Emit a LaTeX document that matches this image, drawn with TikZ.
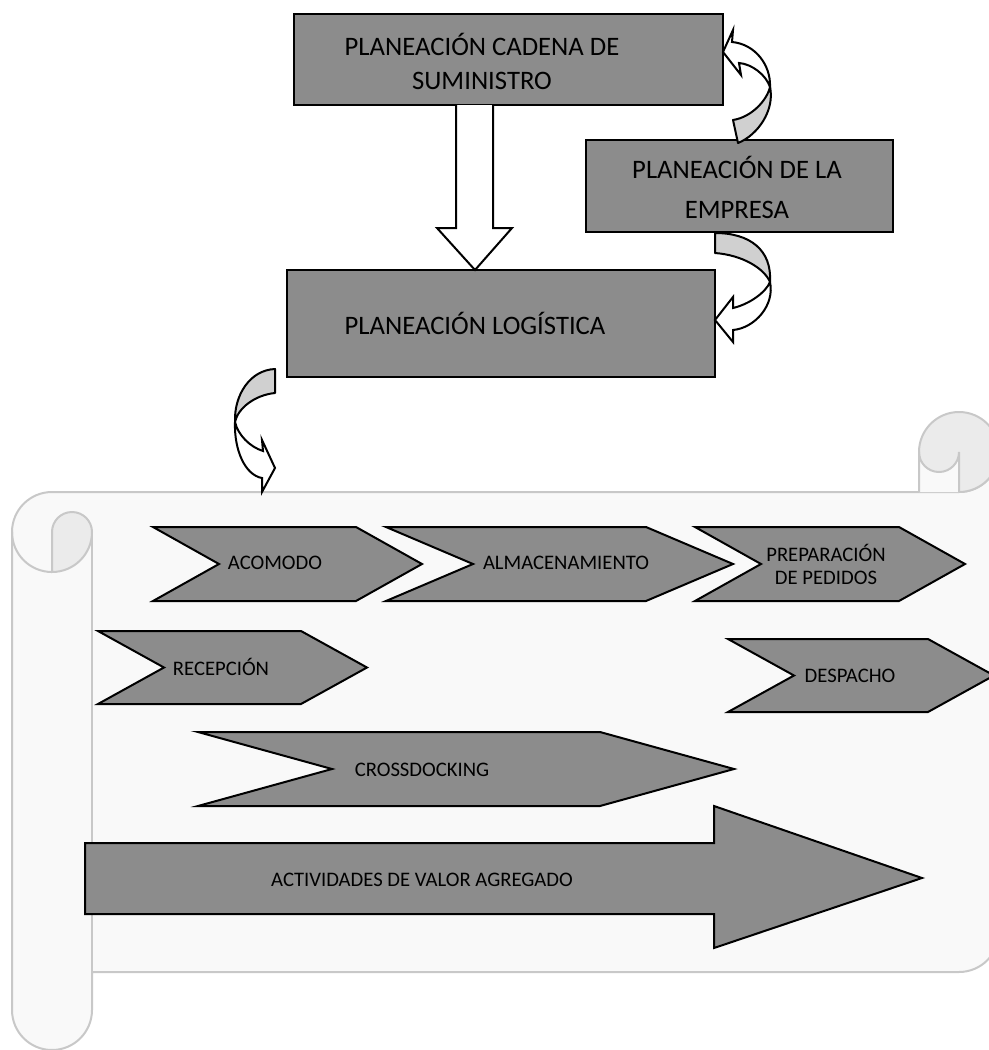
\documentclass[tikz,border=0pt]{standalone}
\usepackage{fontspec}
\setmainfont{Carlito}
\usetikzlibrary{positioning, calc}
\definecolor{boxgray}{RGB}{140,140,140}
\definecolor{bandgray}{RGB}{208,208,208}
\definecolor{paper}{RGB}{249,249,249}
\definecolor{rollgray}{RGB}{235,235,235}
\definecolor{rimgray}{RGB}{200,200,200}
\newcommand{\chevron}[5]{\draw[chev] (#1,#3) -- (#2-#5,#3) -- (#2,{(#3+#4)/2}) -- (#2-#5,#4) -- (#1,#4) -- (#1+#5,{(#3+#4)/2}) -- cycle;}

\begin{document}
\begin{tikzpicture}[
        x=0.75pt, y=-0.75pt,
        box/.style={draw, line width=1.5pt, fill=boxgray, inner sep=0pt},
        boxtxt/.style={align=center, font=\fontsize{20}{25}\selectfont},
        lbl/.style={align=center, font=\fontsize{15.5}{17.25}\selectfont},
        chev/.style={draw, line width=1.5pt, fill=boxgray, line join=miter},
        band/.style={draw, line width=1.5pt, fill=bandgray, line join=round},
        curvehead/.style={draw, line width=1.5pt, fill=white, line join=miter},
        rim/.style={draw=rimgray, line width=1.5pt}
    ]
        \useasboundingbox (0,0) rectangle (989,1050);
        \clip (0,0) rectangle (989,1050);

        \filldraw[rim, fill=paper] (12,532) arc[start angle=180, end angle=270, radius=40] -- (959,492) arc[start angle=90, end angle=0, radius=40] -- (999,932) arc[start angle=0, end angle=90, radius=40] -- (92,972) -- (92,1010) arc[start angle=0, end angle=180, radius=40] -- cycle;
        \draw[rim] (92,532) -- (92,972);
        \filldraw[rim, fill=rollgray] (52,572) -- (52,532) arc[start angle=180, end angle=360, radius=20] arc[start angle=0, end angle=90, radius=40] -- cycle;
        \draw[rim] (12,532) arc[start angle=180, end angle=90, radius=40];
        \filldraw[rim, fill=rollgray] (959,452) circle[radius=40];
        \path[fill=paper] (919,452) arc[start angle=180, end angle=0, radius=20] -- (959,492) -- (919,492) -- cycle;
        \draw[rim] (919,492) -- (919,452) arc[start angle=180, end angle=0, radius=20] -- (959,492);

        \chevron{153}{422}{527}{601}{66}
        \chevron{386}{733}{527}{601}{87}
        \chevron{695}{965}{527}{601}{66}
        \chevron{98}{367}{631}{704}{66}
        \chevron{728}{994}{639}{712}{66}
        \chevron{198}{734}{732}{806}{134}
        \draw[chev] (85,843) -- (714,843) -- (714,806) -- (922,878) -- (714,948) -- (714,914) -- (85,914) -- cycle;
        \node[lbl] (acomodo) at (275,563) {ACOMODO};
        \node[lbl] (almacen) at (566,563) {ALMACENAMIENTO};
        \node[lbl] (pedidos) at (826,564) {PREPARACIÓN\\DE PEDIDOS};
        \node[lbl] (recepcion) at (221,667) {RECEPCIÓN};
        \node[lbl] (despacho) at (850,676) {DESPACHO};
        \node[lbl] (crossdock) at (422,770) {CROSSDOCKING};
        \node[lbl] (valor) at (422,880) {ACTIVIDADES DE VALOR AGREGADO};

        \node[box, minimum width=321.75pt, minimum height=68.25pt] (cadena) at (508.5,59.5) {};
        \node[boxtxt] (cadenatxt) at (482,61.5) {PLANEACIÓN CADENA DE\\SUMINISTRO};
        \node[box, minimum width=230.25pt, minimum height=69pt] (empresa) at (739.5,186) {};
        \node[boxtxt, font=\fontsize{20}{30}\selectfont] (empresatxt) at (737,187) {PLANEACIÓN DE LA\\EMPRESA};
        \node[box, minimum width=321pt, minimum height=80.25pt] (logistica) at (501,323.5) {};
        \node[boxtxt] (logisticatxt) at (475,323) {PLANEACIÓN LOGÍSTICA};

        \draw[curvehead] (456,105) -- (456,228) -- (437,228) -- (475,270) -- (512,228) -- (493,228) -- (493,105);

        \draw[curvehead] (732,42) -- (733,30) -- (723,52) -- (741,75) -- (739,63) .. controls (752,64) and (766,75) .. (770,87) .. controls (771,65) and (755,44) .. (732,42) -- cycle;
        \draw[band] (770,87) .. controls (775,110) and (758,135) .. (738,143) -- (733,120) .. controls (752,117) and (767,100) .. (770,87) -- cycle;

        \draw[band] (715,233) .. controls (750,233) and (772,250) .. (770,282) .. controls (764,268) and (742,255) .. (715,253) -- cycle;
        \draw[curvehead] (770,282) .. controls (766,292) and (750,304) .. (733,308) -- (733,297) -- (715,320) -- (733,342) -- (733,330) .. controls (755,328) and (775,305) .. (770,282) -- cycle;

        \draw[band] (275,369) .. controls (250,370) and (234,395) .. (235,422) .. controls (238,408) and (255,395) .. (275,393) -- cycle;
        \draw[curvehead] (235,422) .. controls (238,435) and (250,447) .. (263,451) -- (262,440) -- (275,468) -- (262,492) -- (262,478) .. controls (245,475) and (234,450) .. (235,422) -- cycle;
    \end{tikzpicture}
\end{document}
